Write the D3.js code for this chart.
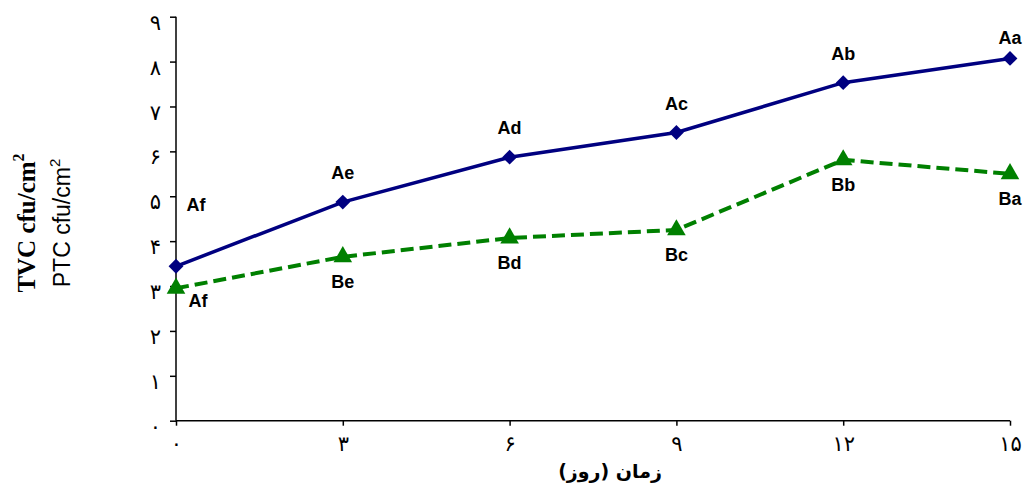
<!DOCTYPE html>
<html><head><meta charset="utf-8">
<script src="https://cdn.jsdelivr.net/npm/d3@7"></script>
<style>body{margin:0;background:#fff}svg{display:block}</style>
</head><body>
<svg id="c" width="1026" height="483"></svg>
<script>
const days = [0, 3, 6, 9, 12, 15];
const tvc = [3.44, 4.87, 5.87, 6.42, 7.53, 8.07];
const ptc = [2.95, 3.65, 4.07, 4.25, 5.81, 5.50];
const tvcLabels = ["Af", "Ae", "Ad", "Ac", "Ab", "Aa"];
const ptcLabels = ["Af", "Be", "Bd", "Bc", "Bb", "Ba"];
const xTickLabels = ["۰", "۳", "۶", "۹", "۱۲", "۱۵"];
const yTicks = [0,1,2,3,4,5,6,7,8,9];
const yTickLabels = ["۰","۱","۲","۳","۴","۵","۶","۷","۸","۹"];

const svg = d3.select("#c");
const x = d3.scaleLinear().domain([0, 15]).range([176, 1010]);
const y = d3.scaleLinear().domain([0, 9]).range([420.7, 16.7]);

// axes
const ya = svg.append("g").attr("transform", "translate(176,0)")
  .call(d3.axisLeft(y).tickValues(yTicks).tickFormat((d,i)=>yTickLabels[i]).tickSize(6).tickPadding(9));
const xa = svg.append("g").attr("transform", "translate(0,420.7)")
  .call(d3.axisBottom(x).tickValues(days).tickFormat((d,i)=>xTickLabels[i]).tickSize(5).tickPadding(10));
[ya, xa].forEach(g => {
  g.attr("font-size", 21).attr("font-family", "DejaVu Sans");
  g.select(".domain").attr("stroke", "#000").attr("stroke-width", 1.5);
  g.selectAll(".tick line").attr("stroke", "#000").attr("stroke-width", 1.5);
  g.selectAll("text").style("font-family", "DejaVu Sans").style("font-size", "21px").attr("fill", "#000");
});
ya.selectAll(".tick text").attr("dy", "0.6em");
ya.select(".domain").attr("d", "M0,420.7V16.7");
xa.select(".domain").attr("d", "M176,0H1010");

// lines
const line = d3.line().x((d,i)=>x(days[i])).y(d=>y(d));
svg.append("path").datum(tvc).attr("d", line).attr("fill","none")
  .attr("stroke","#000080").attr("stroke-width",3.5);
svg.append("path").datum(ptc).attr("d", line).attr("fill","none")
  .attr("stroke","#008000").attr("stroke-width",4).attr("stroke-dasharray","13,6");

// markers
svg.selectAll(".dm").data(tvc).enter().append("path")
  .attr("d", d3.symbol().type(d3.symbolDiamond2).size(140))
  .attr("transform",(d,i)=>`translate(${x(days[i])},${y(d)})`)
  .attr("fill","#000080");
svg.selectAll(".tm").data(ptc).enter().append("path")
  .attr("d", d3.symbol().type(d3.symbolTriangle).size(150))
  .attr("transform",(d,i)=>`translate(${x(days[i])},${y(d)})`)
  .attr("fill","#008000");

// point labels
const lblStyle = s => s.attr("font-family","Liberation Sans, Arial").attr("font-weight","bold")
  .attr("font-size",18).attr("text-anchor","middle").attr("fill","#000");
svg.selectAll(".la").data(tvc).enter().append("text")
  .attr("x",(d,i)=>x(days[i]) + (i===0?20:0))
  .attr("y",(d,i)=>y(d) - (i===0?55:(i===5?14:23)))
  .text((d,i)=>tvcLabels[i]).call(lblStyle);
svg.selectAll(".lb").data(ptc).enter().append("text")
  .attr("x",(d,i)=>x(days[i]) + (i===0?22:0))
  .attr("y",(d,i)=>y(d) + (i===0?19:31))
  .text((d,i)=>ptcLabels[i]).call(lblStyle);

// axis titles
const yt = svg.append("g").attr("transform","translate(0,223) rotate(-90)");
const t1 = yt.append("text").attr("x",0).attr("y",35).attr("text-anchor","middle")
  .attr("font-family","Liberation Serif, Times New Roman").attr("font-weight","bold").attr("font-size",25);
t1.append("tspan").text("TVC cfu/cm");
t1.append("tspan").text("2").attr("font-size",16).attr("dy",-11);
const t2 = yt.append("text").attr("x",0).attr("y",70).attr("text-anchor","middle")
  .attr("font-family","Liberation Sans, Arial").attr("font-size",23);
t2.append("tspan").text("PTC cfu/cm");
t2.append("tspan").text("2").attr("font-size",15).attr("dy",-10);

svg.append("text").attr("x",610).attr("y",478).attr("text-anchor","middle")
  .attr("font-family","DejaVu Sans").attr("font-weight","bold").attr("font-size",19)
  .text("زمان (روز)");
</script>
</body></html>
